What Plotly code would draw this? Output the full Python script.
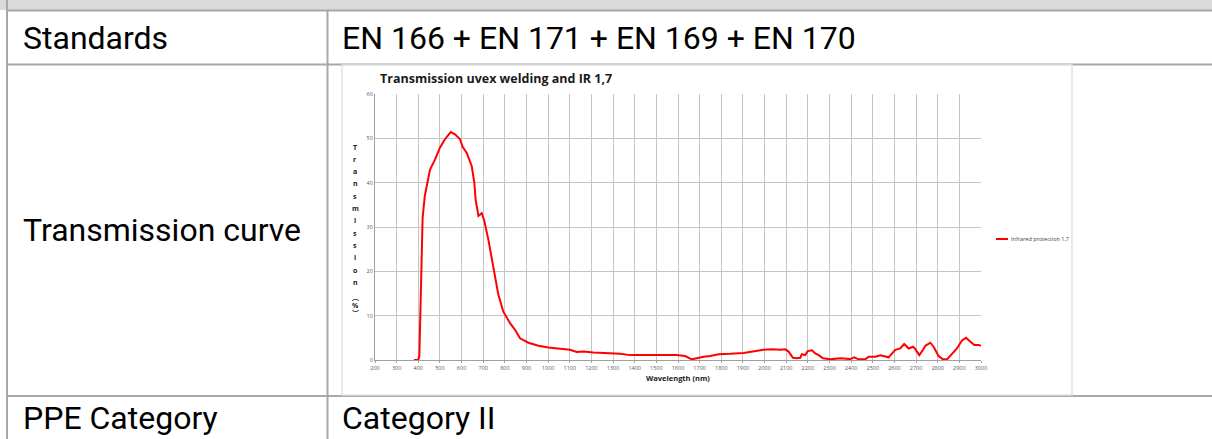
import plotly.graph_objects as go

# ---- data ----
wavelength_nm = [380, 400, 405, 410, 415, 420, 430, 439, 454, 477, 500, 523, 550, 570, 593, 605, 624, 647,
                 659, 665, 678, 693, 704, 724, 747, 770, 793, 824, 847, 870, 909, 955, 1001, 1101, 1132,
                 1163, 1209, 1333, 1379, 1594, 1633, 1664, 1687, 1718, 1749, 1787, 1841, 1903, 1995, 2034,
                 2072, 2096, 2111, 2131, 2150, 2165, 2172, 2188, 2199, 2219, 2234, 2250, 2270, 2304, 2350,
                 2396, 2414, 2435, 2465, 2481, 2512, 2535, 2573, 2604, 2627, 2645, 2666, 2686, 2696, 2715,
                 2732, 2743, 2766, 2781, 2804, 2824, 2843, 2866, 2889, 2912, 2931, 2951, 2969, 2989, 3000]
transmission_pct = [0, 0, 1, 10, 24, 32, 37, 39, 42.9, 45.2, 47.9, 49.8, 51.4, 50.9, 49.8, 48.1, 46.7, 43.7,
                    40, 36.1, 32.5, 33.1, 31.6, 27.1, 21.1, 14.7, 10.9, 8.3, 6.8, 4.9, 3.9, 3.2, 2.8, 2.3, 1.8,
                    1.9, 1.7, 1.4, 1.1, 1.1, 0.9, 0.15, 0.4, 0.75, 0.9, 1.3, 1.4, 1.6, 2.3, 2.4,
                    2.3, 2.4, 1.9, 0.5, 0.4, 0.5, 1.3, 1.1, 2.0, 2.2, 1.5, 1.1, 0.4, 0.15, 0.4,
                    0.2, 0.6, 0.15, 0.15, 0.75, 0.75, 1.05, 0.6, 2.3, 2.6, 3.6, 2.6, 3.0, 2.5, 1.1,
                    2.3, 3.2, 3.9, 3.0, 0.9, 0.15, 0.15, 1.3, 2.6, 4.4, 5.0, 4.1, 3.4, 3.4, 3.2]
x_ticks = list(range(200, 3001, 100))
y_ticks = list(range(0, 61, 10))
series_name = "Infrared protection 1,7"
chart_title = "Transmission uvex welding and IR 1,7"
y_title_letters = ["T", "r", "a", "n", "s", "m", "i", "s", "s", "i", "o", "n", "︵", "%", "︶"]
table_rows = [("Standards", "EN 166 + EN 171 + EN 169 + EN 170"),
              ("Transmission curve", ""),
              ("PPE Category", "Category II")]

W, H = 1212, 439


def px(x):
    return x / W


def py(y):
    return 1 - y / H


fig = go.Figure()
fig.add_trace(go.Scatter(x=wavelength_nm, y=transmission_pct, mode="lines", name=series_name,
                         line=dict(color="#ff0000", width=2), showlegend=False))

GRID = "#c4c4c4"
TABLE_LINE = "#a8a8a8"
shapes = []
shapes.append(dict(type="rect", xref="paper", yref="paper", x0=0, x1=1, y0=py(10), y1=py(0),
                   fillcolor="#dadada", line_width=0, layer="below"))
for yy in (10.5, 64.5, 396):
    shapes.append(dict(type="line", xref="paper", yref="paper", x0=px(6), x1=1, y0=py(yy), y1=py(yy),
                       line=dict(color=TABLE_LINE, width=2), layer="below"))
shapes.append(dict(type="line", xref="paper", yref="paper", x0=px(7), x1=px(7), y0=py(0), y1=py(439),
                   line=dict(color=TABLE_LINE, width=2), layer="below"))
shapes.append(dict(type="line", xref="paper", yref="paper", x0=px(327.5), x1=px(327.5), y0=py(10), y1=py(439),
                   line=dict(color=TABLE_LINE, width=2), layer="below"))
shapes.append(dict(type="rect", xref="paper", yref="paper", x0=px(342), x1=px(1072), y0=py(395), y1=py(65),
                   fillcolor="white", line=dict(color="#e2e2e2", width=1.5), layer="below"))
shapes.append(dict(type="line", xref="paper", yref="paper", x0=px(996), x1=px(1008), y0=py(239), y1=py(239),
                   line=dict(color="#ff0000", width=2)))

annotations = []
FONT = "Roboto"
row_y = [38, 230, 418]
for (label, value), ry in zip(table_rows, row_y):
    annotations.append(dict(xref="paper", yref="paper", x=px(21), y=py(ry), text=label, showarrow=False,
                            xanchor="left", yanchor="middle", font=dict(family=FONT, size=32, color="#000")))
    if value:
        annotations.append(dict(xref="paper", yref="paper", x=px(340), y=py(ry), text=value, showarrow=False,
                                xanchor="left", yanchor="middle", font=dict(family=FONT, size=32, color="#000")))

CH_FONT = "Open Sans"
annotations.append(dict(xref="paper", yref="paper", x=px(378), y=py(79), text="<b>" + chart_title + "</b>",
                        showarrow=False, xanchor="left", yanchor="middle",
                        font=dict(family=CH_FONT, size=12.5, color="#1a1a1a")))
annotations.append(dict(xref="paper", yref="paper", x=px(678), y=py(378), text="<b>Wavelength (nm)</b>",
                        showarrow=False, xanchor="center", yanchor="middle",
                        font=dict(family=CH_FONT, size=7.5, color="#1a1a1a")))
annotations.append(dict(xref="paper", yref="paper", x=px(1009), y=py(239), text=series_name,
                        showarrow=False, xanchor="left", yanchor="middle",
                        font=dict(family=CH_FONT, size=5.5, color="#404040")))
for i, ch in enumerate(y_title_letters):
    if i < 12:
        yy = 147 + i * 12.3
    else:
        yy = 297 + (i - 12) * 8
    annotations.append(dict(xref="paper", yref="paper", x=px(355), y=py(yy), text="<b>" + ch + "</b>",
                            showarrow=False, xanchor="center", yanchor="middle",
                            font=dict(family="Noto Sans CJK SC" if ch in "︵︶" else CH_FONT, size=7,
                                      color="#1a1a1a")))

fig.update_layout(
    width=W, height=H, autosize=False,
    margin=dict(l=0, r=0, t=0, b=0, pad=0, autoexpand=False),
    paper_bgcolor="white", plot_bgcolor="rgba(0,0,0,0)",
    shapes=shapes, annotations=annotations,
    xaxis=dict(domain=[px(375), px(981)], range=[200, 3000], tickvals=x_ticks, automargin=False,
               ticktext=[str(t) for t in x_ticks], showgrid=True, gridcolor=GRID, gridwidth=1,
               showline=True, linecolor="#a0a0a0", linewidth=1, ticks="outside", ticklen=2,
               tickcolor="#a0a0a0", tickfont=dict(family=CH_FONT, size=5.5, color="#595959"),
               zeroline=False, fixedrange=True),
    yaxis=dict(domain=[py(360), py(94)], range=[0, 60], tickvals=y_ticks, automargin=False,
               showgrid=True, gridcolor=GRID, gridwidth=1,
               showline=True, linecolor="#a0a0a0", linewidth=1, ticks="", ticklen=0,
               tickfont=dict(family=CH_FONT, size=5.5, color="#595959"),
               zeroline=False, fixedrange=True),
)

fig.write_html("out.html", config={"displayModeBar": False},
               post_script="document.body.style.margin='0px';document.body.style.padding='0px';"
                           "document.documentElement.style.overflow='hidden';"
                           "var d=document.getElementById('{plot_id}');d.style.position='fixed';"
                           "d.style.left='0px';d.style.top='0px';")
